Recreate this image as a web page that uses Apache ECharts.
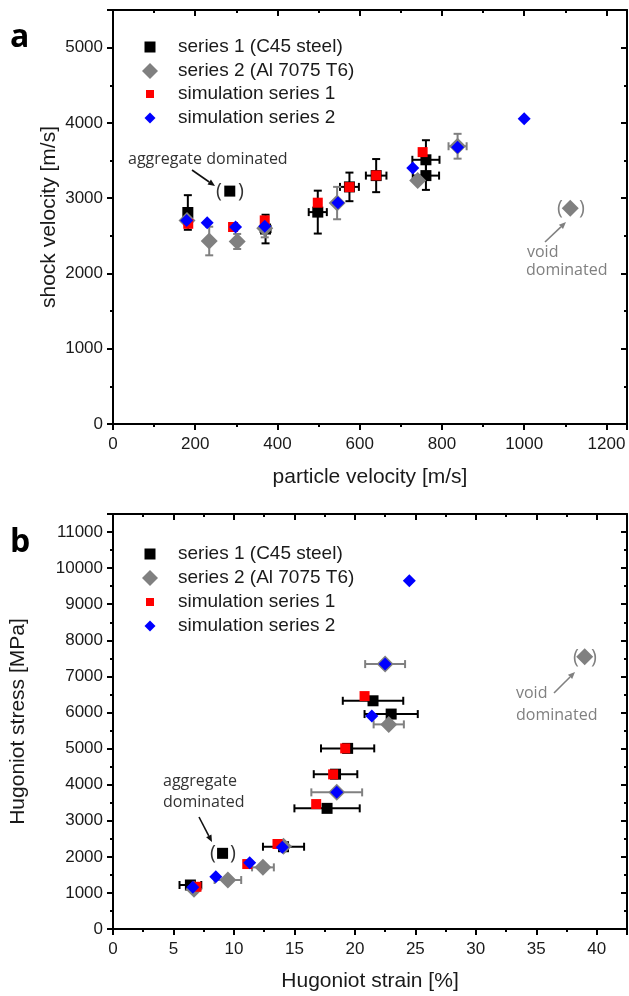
<!DOCTYPE html>
<html>
<head>
<meta charset="UTF-8">
<title>shock velocity / Hugoniot</title>
<script src="https://cdn.jsdelivr.net/npm/echarts@6/dist/echarts.min.js"></script>
<style>
  html, body { margin: 0; padding: 0; background: #fff; }
  #chart { width: 629px; height: 996px; }
</style>
</head>
<body>
<div id="chart"></div>
<script>
// ---- panel a : particle velocity [m/s] vs shock velocity [m/s]
var a_s1_x    = [182, 371, 498, 575, 640, 761, 761];
var a_s1_y    = [2810, 2590, 2815, 3150, 3300, 3510, 3300];
var a_s1_xerr = [0, 12, 22, 23, 25, 33, 32];
var a_s1_yerr = [230, 190, 285, 190, 220, 260, 190];

var a_s2_x    = [180, 234, 302, 369, 545, 741, 838];
var a_s2_y    = [2705, 2431, 2425, 2600, 2935, 3236, 3690];
var a_s2_xerr = [0, 0, 0, 0, 0, 0, 22];
var a_s2_yerr = [0, 190, 100, 120, 215, 0, 165];

var a_sim1_x = [183, 292, 369, 498, 575, 640, 753];
var a_sim1_y = [2660, 2617, 2705, 2940, 3147, 3302, 3612];
var a_sim2_x = [179, 229, 298, 369, 547, 729, 838, 1000];
var a_sim2_y = [2705, 2675, 2617, 2626, 2940, 3400, 3678, 4055];

var a_aggregate = [284, 3094];
var a_void = [1112, 2865];

// ---- panel b : Hugoniot strain [%] vs Hugoniot stress [MPa]
var b_s1_x    = [6.4, 14.1, 17.7, 18.4, 19.4, 21.5, 23.0];
var b_s1_y    = [1219, 2280, 3343, 4290, 5005, 6324, 5956];
var b_s1_xerr = [0.9, 1.7, 2.7, 1.8, 2.2, 2.5, 2.2];

var b_s2_x    = [6.7, 9.5, 12.4, 14.1, 18.5, 22.5, 22.8];
var b_s2_y    = [1100, 1357, 1708, 2290, 3786, 7341, 5670];
var b_s2_xerr = [0, 1.1, 0.9, 0, 2.1, 1.65, 1.25];

var b_sim1_x = [6.9, 11.1, 13.6, 16.8, 18.2, 19.2, 20.8];
var b_sim1_y = [1170, 1800, 2355, 3462, 4285, 5005, 6454];
var b_sim2_x = [6.6, 8.5, 11.3, 14.0, 18.5, 21.4, 22.5, 24.5];
var b_sim2_y = [1155, 1449, 1837, 2263, 3786, 5900, 7341, 9650];

var b_aggregate = [9.06, 2097];
var b_void = [39.0, 7543];

var names = ['series 1 (C45 steel)', 'series 2 (Al 7075 T6)', 'simulation series 1', 'simulation series 2'];

function zip(xs, ys) {
  return xs.map(function (x, i) { return [x, ys[i]]; });
}
function zipErr(xs, ys, ex, ey) {
  return xs.map(function (x, i) { return [x, ys[i], ex ? ex[i] : 0, ey ? ey[i] : 0]; });
}

// error bars drawn through the axes of the grid
function errorBars(color) {
  return function (params, api) {
    var x = api.value(0), y = api.value(1), ex = api.value(2), ey = api.value(3);
    var c = api.coord([x, y]);
    var st = { stroke: color, lineWidth: 2 };
    var cap = 4;
    var kids = [];
    if (ey > 0) {
      var t = api.coord([x, y + ey]), b = api.coord([x, y - ey]);
      kids.push({ type: 'line', shape: { x1: c[0], y1: t[1], x2: c[0], y2: b[1] }, style: st });
      kids.push({ type: 'line', shape: { x1: c[0] - cap, y1: t[1], x2: c[0] + cap, y2: t[1] }, style: st });
      kids.push({ type: 'line', shape: { x1: c[0] - cap, y1: b[1], x2: c[0] + cap, y2: b[1] }, style: st });
    }
    if (ex > 0) {
      var l = api.coord([x - ex, y]), r = api.coord([x + ex, y]);
      kids.push({ type: 'line', shape: { x1: l[0], y1: c[1], x2: r[0], y2: c[1] }, style: st });
      kids.push({ type: 'line', shape: { x1: l[0], y1: c[1] - cap, x2: l[0], y2: c[1] + cap }, style: st });
      kids.push({ type: 'line', shape: { x1: r[0], y1: c[1] - cap, x2: r[0], y2: c[1] + cap }, style: st });
    }
    return { type: 'group', children: kids };
  };
}

var txt = '#1a1a1a';
var sans = 'Liberation Sans';

function axisPair(gi, dir, min, max, interval, name, nameGap) {
  var isX = dir === 'x';
  var main = {
    type: 'value', gridIndex: gi, min: min, max: max, interval: interval,
    position: isX ? 'bottom' : 'left',
    name: name, nameLocation: 'middle', nameGap: nameGap, nameMoveOverlap: false,
    nameRotate: isX ? 0 : 90,
    nameTextStyle: { fontSize: 21, color: txt, fontFamily: sans },
    axisLine: { show: true, onZero: false, lineStyle: { color: '#000', width: 2 } },
    axisTick: { show: true, inside: false, length: 6, lineStyle: { color: '#000', width: 2 } },
    minorTick: { show: true, splitNumber: 2, length: 3, lineStyle: { color: '#000', width: 2 } },
    axisLabel: {
      fontSize: 17, color: txt, fontFamily: sans, margin: isX ? 12 : 10,
      showMaxLabel: false,
      formatter: function (v) { return String(v); }
    },
    splitLine: { show: false }
  };
  var mirror = {
    type: 'value', gridIndex: gi, min: min, max: max, interval: interval,
    position: isX ? 'top' : 'right',
    axisLine: { show: true, onZero: false, lineStyle: { color: '#000', width: 2 } },
    axisTick: { show: true, inside: true, length: 6, lineStyle: { color: '#000', width: 2 } },
    minorTick: { show: true, splitNumber: 2, length: 3, lineStyle: { color: '#000', width: 2 } },
    axisLabel: { show: false },
    splitLine: { show: false }
  };
  return [main, mirror];
}

var xAxes = axisPair(0, 'x', 0, 1250, 200, 'particle velocity [m/s]', 43)
  .concat(axisPair(1, 'x', 0, 42.5, 5, 'Hugoniot strain [%]', 42));
var yAxes = axisPair(0, 'y', 0, 5500, 1000, 'shock velocity [m/s]', 53)
  .concat(axisPair(1, 'y', 0, 11500, 1000, 'Hugoniot stress [MPa]', 84));

function panelSeries(gi, s1, s2, sim1, sim2, agg, vd) {
  var xi = gi * 2, yi = gi * 2;
  function sc(name, symbol, size, color, data, z) {
    return { type: 'scatter', name: name, xAxisIndex: xi, yAxisIndex: yi, symbol: symbol, symbolSize: size,
      itemStyle: { color: color, opacity: 1 }, data: data, z: z };
  }
  return [
    { type: 'custom', xAxisIndex: xi, yAxisIndex: yi, renderItem: errorBars('#000'),
      data: s1, encode: { x: 0, y: 1 }, z: 2, silent: true },
    sc(names[0], 'rect', 11, '#000', s1.map(function (d) { return [d[0], d[1]]; }), 3),
    { type: 'custom', xAxisIndex: xi, yAxisIndex: yi, renderItem: errorBars('#808080'),
      data: s2, encode: { x: 0, y: 1 }, z: 4, silent: true },
    sc(names[1], 'diamond', 17, '#808080', s2.map(function (d) { return [d[0], d[1]]; }), 5),
    sc(names[2], 'rect', 10, '#ff0000', sim1, 6),
    sc(names[3], 'diamond', 13, '#0000ff', sim2, 7),
    sc('aggregate dominated', 'rect', 11, '#000', [agg], 3),
    sc('void dominated', 'diamond', 17, '#808080', [vd], 5)
  ];
}

var series = panelSeries(0,
  zipErr(a_s1_x, a_s1_y, a_s1_xerr, a_s1_yerr),
  zipErr(a_s2_x, a_s2_y, a_s2_xerr, a_s2_yerr),
  zip(a_sim1_x, a_sim1_y), zip(a_sim2_x, a_sim2_y), a_aggregate, a_void
).concat(panelSeries(1,
  zipErr(b_s1_x, b_s1_y, b_s1_xerr, null),
  zipErr(b_s2_x, b_s2_y, b_s2_xerr, null),
  zip(b_sim1_x, b_sim1_y), zip(b_sim2_x, b_sim2_y), b_aggregate, b_void
));

// one legend per row so every marker keeps its own size
var legendIcons = [['rect', 11], ['diamond', 16], ['rect', 8], ['diamond', 11]];
function legends(rowTops) {
  return names.map(function (n, i) {
    var s = legendIcons[i][1];
    return {
      data: [{ name: n, icon: legendIcons[i][0] }],
      left: 145 - s / 2, top: rowTops[i] - 11,
      itemWidth: s, itemHeight: s, selectedMode: false,
      textStyle: { fontSize: 19, color: txt, fontFamily: sans, lineHeight: 22,
        padding: [0, 0, 0, 173 - (145 + s / 2 + 5)] }
    };
  });
}

function label(text, x, y, size, color, opts) {
  var s = { text: text, fontSize: size, fill: color, fontFamily: 'Open Sans',
    textAlign: 'left', textVerticalAlign: 'middle' };
  if (opts) for (var k in opts) s[k] = opts[k];
  return { type: 'text', x: x, y: y, style: s, z: 20 };
}
function arrow(x1, y1, x2, y2, color) {
  var a = Math.atan2(y2 - y1, x2 - x1), h = 7, w = 3;
  var bx = x2 - h * Math.cos(a), by = y2 - h * Math.sin(a);
  return [
    { type: 'line', shape: { x1: x1, y1: y1, x2: bx, y2: by }, style: { stroke: color, lineWidth: 1.6 }, z: 20 },
    { type: 'polygon', shape: { points: [[x2, y2],
      [bx + w * Math.sin(a), by - w * Math.cos(a)], [bx - w * Math.sin(a), by + w * Math.cos(a)]] },
      style: { fill: color }, z: 20 }
  ];
}

var dark = '#333', grey = '#808080';
var graphics = [
  label('a', 10, 38, 32, '#000', { fontWeight: 'bold' }),
  label('b', 10, 543, 32, '#000', { fontWeight: 'bold' }),
  // panel a notes
  label('aggregate dominated', 128, 159, 16, dark),
  label('(', 219, 191, 20, dark, { textAlign: 'center' }),
  label(')', 241, 191, 20, dark, { textAlign: 'center' }),
  label('(', 560, 208, 20, grey, { textAlign: 'center' }),
  label(')', 582, 208, 20, grey, { textAlign: 'center' }),
  label('void', 527, 252, 16, grey),
  label('dominated', 526, 270, 16, grey),
  // panel b notes
  label('aggregate', 163, 781, 16, dark),
  label('dominated', 163, 802, 16, dark),
  label('(', 213, 853, 20, dark, { textAlign: 'center' }),
  label(')', 233, 853, 20, dark, { textAlign: 'center' }),
  label('(', 576, 657, 20, grey, { textAlign: 'center' }),
  label(')', 594, 657, 20, grey, { textAlign: 'center' }),
  label('void', 516, 693, 16, grey),
  label('dominated', 516, 715, 16, grey)
].concat(arrow(192, 170, 215, 186, '#111'))
 .concat(arrow(545, 242, 566, 222, grey))
 .concat(arrow(199, 817, 212, 842, '#111'))
 .concat(arrow(554, 693, 575, 672, grey));

var chart = echarts.init(document.getElementById('chart'), null, { renderer: 'canvas' });
chart.setOption({
  animation: false,
  backgroundColor: '#fff',
  grid: [
    { left: 113, top: 10, width: 514, height: 414, outerBoundsMode: 'none', containLabel: false },
    { left: 113, top: 514, width: 514, height: 415, outerBoundsMode: 'none', containLabel: false }
  ],
  xAxis: xAxes,
  yAxis: yAxes,
  legend: legends([42, 66, 89, 113]).concat(legends([549, 573, 597, 621])),
  series: series,
  graphic: graphics
});
</script>
</body>
</html>
